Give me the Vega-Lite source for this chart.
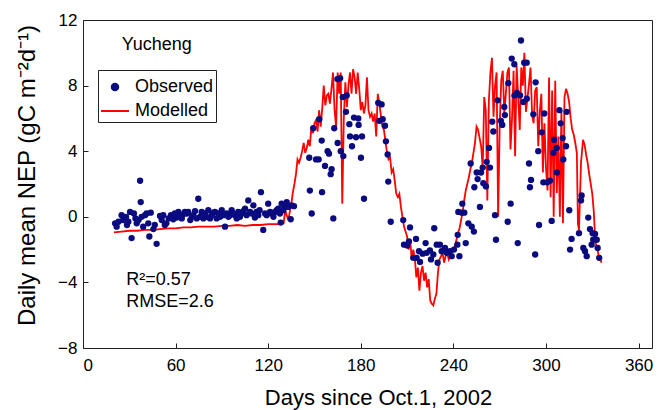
{
  "$schema": "https://vega.github.io/schema/vega-lite/v6.json",
  "autosize": {"type": "none"},
  "padding": {"left": 83, "top": 20, "right": 12, "bottom": 62},
  "width": 569,
  "height": 328,
  "background": "white",
  "config": {
    "font": "Liberation Sans",
    "view": {"stroke": "#222", "strokeWidth": 1},
    "axis": {
      "grid": false,
      "domainColor": "#222",
      "tickColor": "#222",
      "labelFont": "Liberation Sans",
      "titleFont": "Liberation Sans",
      "labelColor": "black",
      "titleColor": "black",
      "labelFontSize": 17,
      "titleFontSize": 21,
      "titleFontWeight": "normal",
      "tickSize": -5
    },
    "legend": {
      "orient": "none",
      "legendX": 15,
      "legendY": 50,
      "strokeColor": "#222",
      "padding": 2,
      "labelFont": "Liberation Sans",
      "labelFontSize": 18,
      "labelColor": "black",
      "symbolSize": 784,
      "rowPadding": 0,
      "labelOffset": 5
    }
  },
  "datasets": {
    "obs": [
      {"day":20.8,"nep":-0.4},{"day":21.8,"nep":-0.6},{"day":23,"nep":-0.3},{"day":25,"nep":0.1},{"day":26,"nep":-0.2},{"day":27.9,"nep":0.0},{"day":28.5,"nep":-0.5},{"day":29.4,"nep":-0.3},{"day":30.5,"nep":0.3},{"day":31.5,"nep":-1.3},{"day":33,"nep":0.2},{"day":34,"nep":-0.1},{"day":34.8,"nep":-0.4},{"day":36,"nep":-0.2},{"day":37,"nep":2.2},{"day":37.4,"nep":0.9},{"day":38,"nep":0.0},{"day":39,"nep":-0.6},{"day":40.2,"nep":0.1},{"day":41.2,"nep":0.2},{"day":42.3,"nep":-0.4},{"day":43,"nep":-1.2},{"day":43.9,"nep":0.25},{"day":45.6,"nep":-0.75},{"day":46.5,"nep":-0.5},{"day":47.7,"nep":-1.65},{"day":49.9,"nep":0.05},{"day":51,"nep":-0.2},{"day":52,"nep":0.1},{"day":53,"nep":-0.5},{"day":54,"nep":-0.4},{"day":55.5,"nep":-0.1},{"day":57,"nep":0.1},{"day":58.5,"nep":-0.15},{"day":59.5,"nep":0.2},{"day":60.7,"nep":-0.05},{"day":61.8,"nep":0.3},{"day":62.8,"nep":0.0},{"day":64,"nep":-0.1},{"day":65,"nep":0.15},{"day":66,"nep":0.3},{"day":67.2,"nep":0.2},{"day":68.2,"nep":0.3},{"day":69.5,"nep":-0.2},{"day":70.5,"nep":0.0},{"day":71.5,"nep":0.1},{"day":72.6,"nep":0.35},{"day":73.7,"nep":-0.1},{"day":74.7,"nep":1.1},{"day":75.8,"nep":0.0},{"day":76.9,"nep":0.3},{"day":78,"nep":-0.1},{"day":79,"nep":0.2},{"day":80,"nep":0.0},{"day":81.2,"nep":0.4},{"day":82.3,"nep":-0.1},{"day":83.4,"nep":0.1},{"day":84.5,"nep":0.25},{"day":85.5,"nep":0.3},{"day":86.6,"nep":-0.1},{"day":87.7,"nep":0.2},{"day":88.8,"nep":0.0},{"day":89.9,"nep":0.4},{"day":91,"nep":0.1},{"day":92,"nep":-0.6},{"day":93.1,"nep":0.2},{"day":94.2,"nep":0.0},{"day":95.3,"nep":0.1},{"day":96.3,"nep":0.4},{"day":97.4,"nep":0.2},{"day":98.5,"nep":0.1},{"day":99.6,"nep":-0.1},{"day":100.6,"nep":0.3},{"day":101.7,"nep":0.0},{"day":102.8,"nep":0.2},{"day":103.9,"nep":0.35},{"day":105,"nep":0.5},{"day":106,"nep":0.1},{"day":107.1,"nep":1.0},{"day":108.2,"nep":0.3},{"day":109.3,"nep":0.2},{"day":110.4,"nep":0.7},{"day":111.4,"nep":-0.05},{"day":112.5,"nep":0.3},{"day":113.6,"nep":0.1},{"day":114.4,"nep":0.4},{"day":115.3,"nep":1.5},{"day":116.8,"nep":-0.8},{"day":118,"nep":0.2},{"day":119,"nep":0.1},{"day":120,"nep":0.8},{"day":121.2,"nep":0.3},{"day":122.3,"nep":0.2},{"day":123.4,"nep":0.0},{"day":124.4,"nep":0.3},{"day":125.5,"nep":0.4},{"day":126.5,"nep":0.5},{"day":127.6,"nep":0.2},{"day":128.1,"nep":-0.35},{"day":128.7,"nep":0.8},{"day":129.8,"nep":0.4},{"day":130.5,"nep":0.6},{"day":132,"nep":0.9},{"day":133,"nep":0.6},{"day":134.6,"nep":-0.15},{"day":135.2,"nep":0.7},{"day":136.7,"nep":0.65},
      {"day":146.6,"nep":3.6},{"day":147,"nep":1.6},{"day":148.2,"nep":0.2},{"day":149.2,"nep":5.4},{"day":151,"nep":3.5},{"day":152.7,"nep":3.5},{"day":153.1,"nep":5.95},{"day":154.7,"nep":4.65},{"day":154.9,"nep":1.5},{"day":156.8,"nep":3.1},{"day":158.5,"nep":4.0},{"day":159.4,"nep":3.85},{"day":160.5,"nep":2.6},{"day":161.1,"nep":2.9},{"day":162.2,"nep":-0.1},{"day":162.8,"nep":5.4},{"day":164.8,"nep":8.4},{"day":166.6,"nep":8.45},{"day":167,"nep":4.0},{"day":165,"nep":4.5},{"day":168.3,"nep":7.3},{"day":168.7,"nep":3.7},{"day":170.4,"nep":6.4},{"day":170.9,"nep":7.4},{"day":172.6,"nep":5.65},{"day":173,"nep":4.9},{"day":174.3,"nep":4.3},{"day":175.6,"nep":6.05},{"day":176.9,"nep":4.85},{"day":178.4,"nep":6.0},{"day":178.6,"nep":5.6},{"day":180.1,"nep":3.6},{"day":180.8,"nep":4.9},{"day":182.1,"nep":1.1},
      {"day":191.3,"nep":6.95},{"day":193.5,"nep":6.85},{"day":192,"nep":5.85},{"day":194.2,"nep":5.95},{"day":195.7,"nep":5.55},{"day":196.3,"nep":4.6},{"day":197.4,"nep":3.8},{"day":197.8,"nep":2.15},{"day":199.4,"nep":-0.3},{"day":207.5,"nep":-0.2},{"day":208,"nep":-1.7},{"day":210.1,"nep":-1.75},{"day":211.2,"nep":-1.5},{"day":211.9,"nep":-0.65},{"day":214,"nep":-2.5},{"day":215.8,"nep":-1.35},{"day":216.2,"nep":-2.5},{"day":217.7,"nep":-2.1},{"day":218.4,"nep":-2.75},{"day":220.1,"nep":-2.25},{"day":222,"nep":-1.6},{"day":222.7,"nep":-2.2},{"day":224.8,"nep":-2.05},{"day":225.5,"nep":-2.6},{"day":227,"nep":-2.3},{"day":227.6,"nep":-0.7},{"day":229.2,"nep":-1.7},{"day":229.8,"nep":-2.8},{"day":231.3,"nep":-1.7},{"day":232.4,"nep":-2.1},{"day":234.6,"nep":-1.9},{"day":235.7,"nep":-2.2},{"day":237.8,"nep":-2.1},{"day":238.9,"nep":-2.4},{"day":240.4,"nep":-2.0},{"day":242.8,"nep":-1.1},{"day":243.2,"nep":0.3},{"day":243.9,"nep":-2.4},
      {"day":242.6,"nep":-1.7},{"day":248,"nep":-1.6},{"day":245.4,"nep":0.25},{"day":247.1,"nep":0.25},{"day":245.8,"nep":0.8},{"day":249.7,"nep":-0.4},{"day":251.9,"nep":-0.6},{"day":253.3,"nep":-0.9},{"day":251.2,"nep":3.25},{"day":253.6,"nep":1.8},{"day":255.1,"nep":2.7},{"day":255.7,"nep":2.3},{"day":257.9,"nep":2.7},{"day":257.2,"nep":0.6},{"day":259.4,"nep":2.05},{"day":261.1,"nep":1.85},{"day":259,"nep":3.0},{"day":261.6,"nep":3.35},{"day":263.7,"nep":3.0},{"day":263.1,"nep":4.2},{"day":265.9,"nep":5.2},{"day":265.2,"nep":5.8},{"day":267,"nep":0.1},{"day":267.6,"nep":-1.4},{"day":268.7,"nep":7.1},{"day":270.8,"nep":5.85},{"day":271.7,"nep":5.6},{"day":273,"nep":6.7},{"day":273.4,"nep":6.2},{"day":275.2,"nep":-0.3},{"day":275.6,"nep":8.15},{"day":277.1,"nep":0.8},{"day":277.8,"nep":9.65},{"day":279.5,"nep":9.3},{"day":279.6,"nep":7.4},{"day":281.2,"nep":7.55},{"day":281.7,"nep":-1.6},{"day":283.2,"nep":7.4},{"day":283.8,"nep":10.75},{"day":285.3,"nep":7.0},{"day":285.9,"nep":9.4},{"day":287.5,"nep":9.4},{"day":287.6,"nep":7.2},{"day":289,"nep":3.25},{"day":290.3,"nep":2.25},{"day":289.6,"nep":1.8},{"day":291.8,"nep":6.25},{"day":293,"nep":-2.3},{"day":293.3,"nep":8.2},{"day":295,"nep":4.0},{"day":295.5,"nep":-0.5},{"day":297.2,"nep":5.15},{"day":298.3,"nep":2.1},{"day":298.9,"nep":6.3},
      {"day":300.8,"nep":2.1},{"day":302.6,"nep":2.2},{"day":303.7,"nep":-0.25},{"day":305.2,"nep":4.7},{"day":304.8,"nep":3.9},{"day":307,"nep":4.2},{"day":307.1,"nep":2.7},{"day":308.7,"nep":6.5},{"day":309.5,"nep":5.7},{"day":310.8,"nep":4.8},{"day":311.2,"nep":3.5},{"day":313,"nep":4.3},{"day":313.4,"nep":6.4},{"day":315.1,"nep":0.4},{"day":315.6,"nep":-2.0},{"day":316.6,"nep":-1.35},{"day":321.4,"nep":-1.0},{"day":323.1,"nep":1.3},{"day":322.7,"nep":1.0},{"day":324.2,"nep":-1.9},{"day":325.3,"nep":-2.1},{"day":326.4,"nep":-2.4},{"day":327.4,"nep":-0.05},{"day":328.5,"nep":-0.75},{"day":329.6,"nep":-1.7},{"day":330.2,"nep":-1.0},{"day":330.6,"nep":-1.4},{"day":331.8,"nep":-1.05},{"day":332.9,"nep":-1.4},{"day":333.5,"nep":-1.9},{"day":334.5,"nep":-2.5}
    ],
    "mod": [
      {"day":20,"nep":-0.95},{"day":25,"nep":-0.9},{"day":30,"nep":-0.85},{"day":35,"nep":-0.85},{"day":40,"nep":-0.8},{"day":45,"nep":-0.8},{"day":50,"nep":-0.75},{"day":55,"nep":-0.7},{"day":60,"nep":-0.7},{"day":65,"nep":-0.65},{"day":70,"nep":-0.65},{"day":75,"nep":-0.6},{"day":80,"nep":-0.6},{"day":85,"nep":-0.6},{"day":90,"nep":-0.55},{"day":95,"nep":-0.55},{"day":100,"nep":-0.5},{"day":105,"nep":-0.55},{"day":110,"nep":-0.5},{"day":115,"nep":-0.5},{"day":120,"nep":-0.45},{"day":125,"nep":-0.45},{"day":129,"nep":-0.45},{"day":130,"nep":-0.4},
      {"day":131,"nep":0.4},{"day":132,"nep":0.1},{"day":133,"nep":-0.2},{"day":134,"nep":0.3},{"day":135,"nep":0.8},{"day":136,"nep":1.5},{"day":137,"nep":2.0},{"day":138,"nep":2.6},{"day":139,"nep":3.5},{"day":140,"nep":3.3},{"day":141,"nep":3.6},{"day":142,"nep":4.0},{"day":143,"nep":4.5},{"day":144,"nep":3.9},{"day":145,"nep":4.2},{"day":146,"nep":4.7},{"day":147,"nep":4.3},{"day":148,"nep":5.5},{"day":149,"nep":5.1},{"day":150,"nep":5.7},{"day":151,"nep":5.9},{"day":152,"nep":5.2},{"day":153,"nep":6.5},{"day":154,"nep":5.5},{"day":155,"nep":6.6},{"day":156,"nep":8.0},{"day":157,"nep":6.8},{"day":158,"nep":7.4},{"day":159,"nep":7.5},{"day":160,"nep":6.9},{"day":161,"nep":7.8},{"day":162,"nep":8.8},{"day":163,"nep":6.5},{"day":164,"nep":5.5},{"day":165,"nep":8.8},{"day":166,"nep":7.5},{"day":167,"nep":8.8},{"day":168,"nep":0.8},{"day":169,"nep":6.0},{"day":170,"nep":8.2},{"day":171,"nep":6.7},{"day":172,"nep":8.0},{"day":173,"nep":8.8},{"day":174,"nep":7.5},{"day":175,"nep":9.0},{"day":176,"nep":8.5},{"day":177,"nep":7.5},{"day":178,"nep":8.8},{"day":179,"nep":7.8},{"day":180,"nep":6.5},{"day":181,"nep":7.0},{"day":182,"nep":6.3},{"day":183,"nep":6.8},{"day":184,"nep":8.5},{"day":185,"nep":6.5},{"day":186,"nep":6.1},{"day":187,"nep":6.3},{"day":188,"nep":5.8},{"day":189,"nep":6.3},{"day":190,"nep":4.9},{"day":191,"nep":7.5},{"day":192,"nep":6.9},{"day":193,"nep":6.2},{"day":194,"nep":5.5},{"day":195,"nep":5.3},{"day":196,"nep":4.6},{"day":197,"nep":3.9},{"day":198,"nep":3.5},{"day":199,"nep":3.6},{"day":200,"nep":2.7},{"day":201,"nep":2.9},{"day":202,"nep":2.2},{"day":203,"nep":1.4},{"day":204,"nep":1.2},{"day":205,"nep":1.4},{"day":206,"nep":0.6},{"day":207,"nep":0.0},{"day":208,"nep":-0.6},{"day":209,"nep":-0.9},{"day":210,"nep":-1.2},{"day":211,"nep":-2.0},{"day":212,"nep":-1.4},{"day":213,"nep":-2.6},{"day":214,"nep":-2.0},{"day":215,"nep":-2.5},{"day":216,"nep":-3.7},{"day":217,"nep":-3.1},{"day":218,"nep":-4.5},{"day":219,"nep":-3.4},{"day":220,"nep":-3.0},{"day":221,"nep":-3.9},{"day":222,"nep":-3.4},{"day":223,"nep":-4.3},{"day":224,"nep":-3.8},{"day":225,"nep":-5.1},{"day":226,"nep":-5.3},{"day":227,"nep":-5.4},{"day":228,"nep":-5.0},{"day":229,"nep":-4.7},{"day":230,"nep":-3.4},{"day":231,"nep":-2.6},{"day":232,"nep":-2.4},{"day":233,"nep":-2.2},{"day":234,"nep":-2.8},{"day":235,"nep":-2.4},{"day":236,"nep":-2.2},{"day":237,"nep":-2.6},{"day":238,"nep":-2.4},{"day":239,"nep":-2.0},{"day":240,"nep":-1.9},{"day":241,"nep":-1.8},{"day":242,"nep":-1.4},{"day":243,"nep":-1.0},{"day":244,"nep":-0.7},{"day":245,"nep":-0.2},{"day":246,"nep":0.3},{"day":247,"nep":1.0},{"day":248,"nep":1.6},{"day":249,"nep":2.0},{"day":250,"nep":2.4},{"day":251,"nep":2.9},{"day":252,"nep":3.3},{"day":253,"nep":3.9},{"day":254,"nep":4.5},{"day":255,"nep":5.5},{"day":256,"nep":5.3},{"day":257,"nep":4.8},{"day":258,"nep":4.3},{"day":259,"nep":3.0},{"day":260,"nep":7.3},{"day":261,"nep":6.5},{"day":262,"nep":1.0},{"day":263,"nep":7.1},{"day":264,"nep":8.8},{"day":265,"nep":9.7},{"day":266,"nep":6.1},{"day":267,"nep":8.0},{"day":268,"nep":8.8},{"day":269,"nep":0.0},{"day":270,"nep":5.5},{"day":271,"nep":8.3},{"day":272,"nep":8.9},{"day":273,"nep":6.3},{"day":274,"nep":7.5},{"day":275,"nep":8.8},{"day":276,"nep":9.1},{"day":277,"nep":4.1},{"day":278,"nep":6.0},{"day":279,"nep":8.9},{"day":280,"nep":3.7},{"day":281,"nep":9.2},{"day":282,"nep":7.3},{"day":283,"nep":5.3},{"day":284,"nep":9.1},{"day":285,"nep":8.0},{"day":286,"nep":10.0},{"day":287,"nep":6.4},{"day":288,"nep":7.2},{"day":289,"nep":8.1},{"day":290,"nep":9.1},{"day":291,"nep":6.2},{"day":292,"nep":5.7},{"day":293,"nep":7.7},{"day":294,"nep":7.9},{"day":295,"nep":4.3},{"day":296,"nep":6.4},{"day":297,"nep":7.5},{"day":298,"nep":2.7},{"day":299,"nep":5.7},{"day":300,"nep":3.0},{"day":301,"nep":1.6},{"day":302,"nep":8.5},{"day":303,"nep":1.2},{"day":304,"nep":7.7},{"day":305,"nep":0.0},{"day":306,"nep":8.3},{"day":307,"nep":1.45},{"day":308,"nep":4.9},{"day":309,"nep":0.0},{"day":310,"nep":6.5},{"day":311,"nep":-0.4},{"day":312,"nep":7.3},{"day":313,"nep":7.8},{"day":314,"nep":7.5},{"day":315,"nep":7.0},{"day":316,"nep":6.0},{"day":317,"nep":5.3},{"day":318,"nep":5.0},{"day":319,"nep":4.5},{"day":320,"nep":3.9},{"day":320.7,"nep":-0.4},{"day":321.4,"nep":-0.8},{"day":322.7,"nep":3.3},{"day":324,"nep":4.7},{"day":325,"nep":4.4},{"day":326,"nep":3.8},{"day":327,"nep":3.3},{"day":328,"nep":2.6},{"day":329,"nep":2.0},{"day":330,"nep":1.4},{"day":331,"nep":0.3},{"day":332,"nep":-1.6},{"day":333,"nep":-1.8},{"day":334,"nep":-2.3},{"day":335,"nep":-2.5},{"day":336,"nep":-2.8}
    ],
    "notes": [
      {"day":25.1,"nep":10.45,"text":"Yucheng"},
      {"day":28.0,"nep":-3.85,"text":"R²=0.57"},
      {"day":28.0,"nep":-5.2,"text":"RMSE=2.6"}
    ]
  },
  "layer": [
    {
      "data": {"name": "mod"},
      "mark": {"type": "line", "strokeWidth": 1.8, "interpolate": "linear"},
      "encoding": {
        "x": {"field": "day", "type": "quantitative"},
        "y": {"field": "nep", "type": "quantitative"},
        "color": {
          "datum": "Modelled", "type": "nominal",
          "legend": {
            "title": null,
            "encode": {
              "symbols": {
                "update": {
                  "shape": {"signal": "datum.value === 'Observed' ? 'circle' : 'stroke'"},
                  "size": {"signal": "datum.value === 'Observed' ? 42 : 784"},
                  "fill": {"signal": "datum.value === 'Observed' ? '#0b0b80' : 'transparent'"},
                  "stroke": {"signal": "datum.value === 'Observed' ? 'transparent' : '#ff0000'"},
                  "strokeWidth": {"value": 2},
                  "opacity": {"value": 1}
                }
              }
            }
          }
        }
      }
    },
    {
      "data": {"name": "obs"},
      "mark": {"type": "point", "filled": true, "size": 40, "opacity": 1},
      "encoding": {
        "x": {
          "field": "day", "type": "quantitative",
          "scale": {"domain": [0, 368.7], "nice": false, "zero": false},
          "axis": {"values": [0, 60, 120, 180, 240, 300, 360], "title": "Days since Oct.1, 2002", "titleFontSize": 22, "labelPadding": 14, "titlePadding": 14, "titleX": 295}
        },
        "y": {
          "field": "nep", "type": "quantitative",
          "scale": {"domain": [-8, 12], "nice": false, "zero": false},
          "axis": {"values": [-8, -4, 0, 4, 8, 12], "title": "Daily mean NEP (gC m⁻²d⁻¹)", "titleFontSize": 24, "labelPadding": 11, "titlePadding": 18, "titleY": 155}
        },
        "color": {
          "datum": "Observed", "type": "nominal",
          "scale": {"domain": ["Observed", "Modelled"], "range": ["#0b0b80", "#ff0000"]},
          "legend": {
            "title": null,
            "encode": {
              "symbols": {
                "update": {
                  "shape": {"signal": "datum.value === 'Observed' ? 'circle' : 'stroke'"},
                  "size": {"signal": "datum.value === 'Observed' ? 42 : 784"},
                  "fill": {"signal": "datum.value === 'Observed' ? '#0b0b80' : 'transparent'"},
                  "stroke": {"signal": "datum.value === 'Observed' ? 'transparent' : '#ff0000'"},
                  "strokeWidth": {"value": 2},
                  "opacity": {"value": 1}
                }
              }
            }
          }
        }
      }
    },
    {
      "data": {"name": "notes"},
      "mark": {"type": "text", "align": "left", "baseline": "middle", "fontSize": 18, "font": "Liberation Sans", "color": "black"},
      "encoding": {
        "x": {"field": "day", "type": "quantitative"},
        "y": {"field": "nep", "type": "quantitative"},
        "text": {"field": "text"}
      }
    }
  ]
}
